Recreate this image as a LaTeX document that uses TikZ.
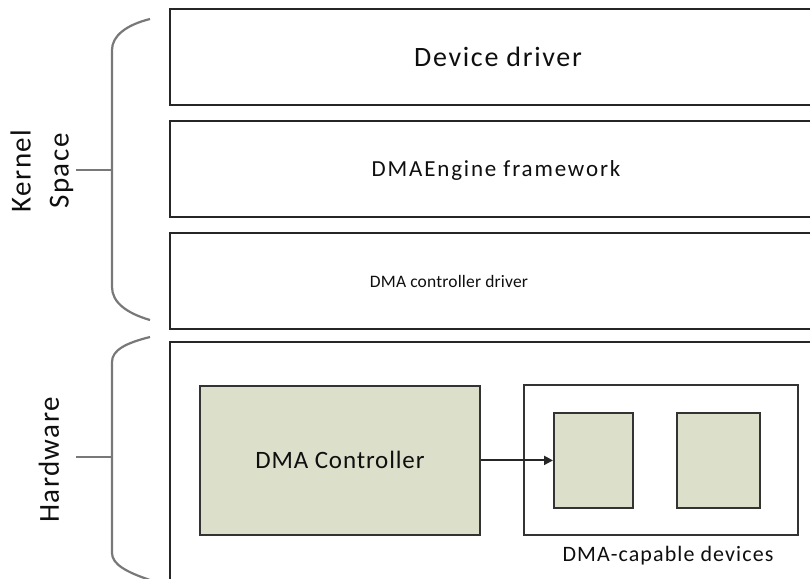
\documentclass[tikz,border=0pt]{standalone}
\usepackage{fontspec}
\setmainfont{Carlito}
\usetikzlibrary{arrows.meta}
\definecolor{boxfill}{RGB}{220,224,203}
\definecolor{txt}{RGB}{15,15,15}
\definecolor{bracec}{RGB}{120,120,120}
\newcommand{\lsfont}[2]{\fontsize{#1}{#1}\selectfont\addfontfeature{LetterSpace=#2}}
\begin{document}
\begin{tikzpicture}[x=1pt,y=-1pt,
  layer/.style={draw=black!85,line width=1.8pt},
  gbox/.style={draw=black!80,line width=1.8pt,fill=boxfill},
  bracel/.style={draw=bracec,line width=2.2pt},
  lbl/.style={text=txt,inner sep=0pt}]
\useasboundingbox (0,0) rectangle (810,578);
\clip (0,0) rectangle (810,578);
\fill[white] (0,0) rectangle (810,578);
% layers
\draw[layer] (820,9) -- (170,9) -- (170,105) -- (820,105);
\draw[layer] (820,121) -- (170,121) -- (170,217) -- (820,217);
\draw[layer] (820,233) -- (170,233) -- (170,329) -- (820,329);
\draw[layer] (820,342) -- (170,342) -- (170,590);
\node[lbl,font=\lsfont{28}{6}] (dd) at (498,57) {Device driver};
\node[lbl,font=\lsfont{23}{8}] (fw) at (496,170) {DMAEngine framework};
\node[lbl,font=\lsfont{17.5}{1}] (cd) at (449,281) {DMA controller driver};
% hardware
\node[gbox,minimum width=280pt,minimum height=149pt,anchor=north west] (ctl) at (199,385) {};
\node[lbl,font=\lsfont{25}{3.5}] at (ctl.center) {DMA Controller};
\node[draw=black!80,line width=1.8pt,minimum width=274pt,minimum height=150pt,anchor=north west] (devs) at (523,384) {};
\node[gbox,minimum width=79pt,minimum height=95pt,anchor=north west] (d1) at (553,412) {};
\node[gbox,minimum width=83pt,minimum height=95pt,anchor=north west] (d2) at (676,412) {};
\node[lbl,font=\lsfont{22}{5}] (devl) at (668,556) {DMA-capable devices};
\draw[black!85,line width=2pt,-{Triangle[length=9pt,width=9pt]}] (ctl.east) -- (d1.west);
% braces
\draw[bracel] (150,19) .. controls (126,25) and (112,36) .. (112,50) -- (112,287) .. controls (112,302) and (126,313) .. (150,320);
\draw[bracel] (76,170) -- (112,170);
\draw[bracel] (150,337) .. controls (126,343) and (112,350) .. (112,362) -- (112,553) .. controls (112,564) and (126,572) .. (150,580);
\draw[bracel] (76,457) -- (112,457);
\node[lbl,rotate=90,align=center,font=\fontsize{29}{38}\selectfont\addfontfeature{LetterSpace=5}] (ks) at (42,171) {Kernel\\Space};
\node[lbl,rotate=90,font=\lsfont{29}{5}] (hw) at (49,460) {Hardware};
\end{tikzpicture}
\end{document}
